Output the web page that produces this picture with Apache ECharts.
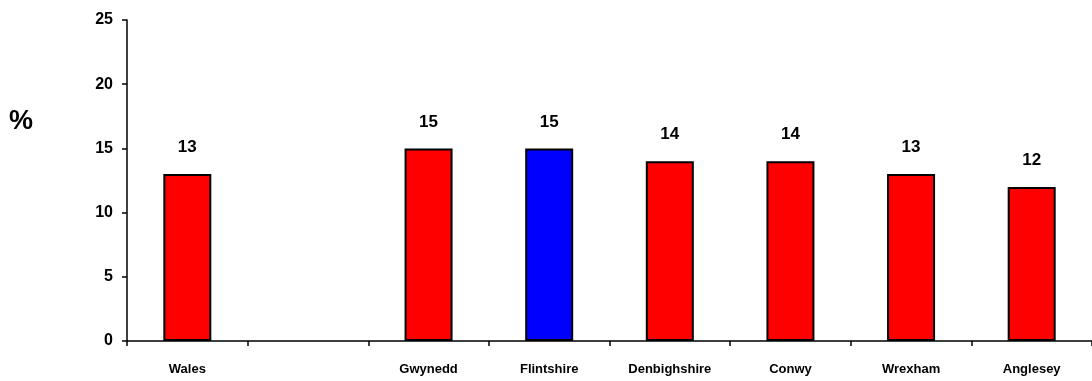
<!DOCTYPE html>
<html>
<head>
<meta charset="utf-8">
<script src="https://cdn.jsdelivr.net/npm/echarts@6/dist/echarts.min.js"></script>
<style>
  html, body { margin: 0; padding: 0; background: #fff; }
  #chart { width: 1092px; height: 381px; }
</style>
</head>
<body>
<div id="chart"></div>
<script>
// Areas compared, with a gap between Wales and the local authorities
const categories = ['Wales', '', 'Gwynedd', 'Flintshire', 'Denbighshire', 'Conwy', 'Wrexham', 'Anglesey'];
const values = [13, null, 15, 15, 14, 14, 13, 12];
const highlighted = 'Flintshire';
const yTicks = [0, 5, 10, 15, 20, 25];
const unitLabel = '%';

const FONT = '"Liberation Sans", Arial, sans-serif';

const chart = echarts.init(document.getElementById('chart'), null, { renderer: 'canvas' });

const data = values.map((v, i) => ({
  value: v,
  itemStyle: { color: categories[i] === highlighted ? '#0000FF' : '#FF0000' }
}));

chart.setOption({
  animation: false,
  backgroundColor: '#ffffff',
  grid: { left: 127, top: 20, width: 968, height: 321, containLabel: false },
  title: {
    text: unitLabel,
    left: 4, top: 103,
    textStyle: { fontFamily: FONT, fontWeight: 'bold', fontSize: 27, color: '#000' }
  },
  xAxis: {
    type: 'category',
    data: categories,
    axisLine: { lineStyle: { color: '#000', width: 1.5 } },
    axisTick: { show: true, length: 5, lineStyle: { color: '#000', width: 1.5 } },
    axisLabel: {
      color: '#000', fontFamily: FONT, fontWeight: 'bold', fontSize: 13,
      margin: 22, interval: 0
    },
    splitLine: { show: false }
  },
  yAxis: {
    type: 'value',
    min: yTicks[0], max: yTicks[yTicks.length - 1], interval: 5,
    axisLine: { show: true, lineStyle: { color: '#000', width: 1.5 } },
    axisTick: { show: true, length: 5, lineStyle: { color: '#000', width: 1.5 } },
    axisLabel: {
      color: '#000', fontFamily: FONT, fontWeight: 'bold', fontSize: 16, margin: 14
    },
    splitLine: { show: false }
  },
  series: [{
    type: 'bar',
    data: data,
    barWidth: 48,
    itemStyle: { borderColor: '#000', borderWidth: 2 },
    label: {
      show: true, position: 'top', distance: 18,
      color: '#000', fontFamily: FONT, fontWeight: 'bold', fontSize: 17,
      formatter: p => (p.value == null ? '' : p.value)
    }
  }]
});
</script>
</body>
</html>
